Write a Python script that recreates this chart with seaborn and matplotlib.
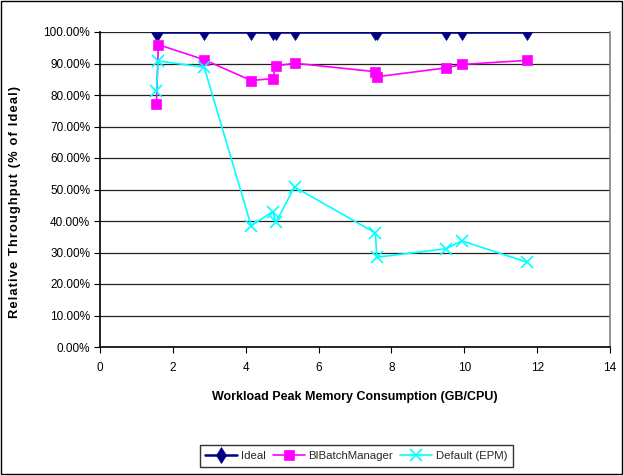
import matplotlib
matplotlib.use("Agg")
import matplotlib.pyplot as plt
from matplotlib.patches import Rectangle
from matplotlib.ticker import PercentFormatter, MultipleLocator
import pandas as pd
import seaborn as sns

# Peak memory per CPU (GB) for each workload run
memory_gb = [1.55, 1.60, 2.86, 4.15, 4.74, 4.83, 5.34, 7.56, 7.60, 9.50, 9.93, 11.73]

# Relative throughput, percent of ideal
ideal = [100, 100, 100, 100, 100, 100, 100, 100, 100, 100, 100, 100]
bi_batch_manager = [77.0, 96.0, 91.2, 84.6, 85.2, 89.2, 90.1, 87.4, 85.8, 88.6, 89.7, 91.0]
default_epm = [81.4, 90.8, 88.8, 38.5, 43.0, 39.6, 50.8, 36.2, 28.5, 31.2, 33.7, 26.9]

series_names = ["Ideal", "BIBatchManager", "Default (EPM)"]
series_values = [ideal, bi_batch_manager, default_epm]

df = pd.concat(
    [pd.DataFrame({"memory": memory_gb, "throughput": vals, "series": name})
     for name, vals in zip(series_names, series_values)],
    ignore_index=True,
)

sns.set_theme(style="white")
plt.rcParams["font.family"] = ["Liberation Sans", "DejaVu Sans"]

fig = plt.figure(figsize=(6.24, 4.75), dpi=100)
ax = fig.add_axes([100 / 624, 1 - 347 / 475, 510 / 624, 315 / 475])

palette = {"Ideal": "#000080", "BIBatchManager": "#FF00FF", "Default (EPM)": "#00FFFF"}
markers = {"Ideal": "d", "BIBatchManager": "s", "Default (EPM)": "x"}
sizes = {"Ideal": 8.5, "BIBatchManager": 6.5, "Default (EPM)": 8}

for name in series_names:
    sub = df[df["series"] == name]
    is_ideal = name == "Ideal"
    sns.lineplot(
        data=sub, x="memory", y="throughput", ax=ax, color=palette[name],
        marker=markers[name], estimator=None, sort=False, label=name,
        linewidth=1.8 if is_ideal else 1.2,
        markersize=sizes[name],
        markeredgewidth=1.2 if name == "Default (EPM)" else 0.5,
        markeredgecolor=palette[name], zorder=3 if is_ideal else 4,
    )

ax.set_xlim(0, 14)
ax.set_ylim(0, 100)
ax.xaxis.set_major_locator(MultipleLocator(2))
ax.yaxis.set_major_locator(MultipleLocator(10))
ax.yaxis.set_major_formatter(PercentFormatter(xmax=100, decimals=2))

ax.grid(axis="y", color="#222222", linewidth=0.9)
ax.grid(axis="x", visible=False)
ax.set_axisbelow(True)

for side in ["left", "bottom"]:
    ax.spines[side].set_color("black")
    ax.spines[side].set_linewidth(1.2)
ax.spines["right"].set_color("#808080")
ax.spines["right"].set_linewidth(1.2)
ax.spines["top"].set_visible(False)

ax.tick_params(axis="both", direction="out", length=4, width=0.8, color="black",
               labelsize=8.5, labelcolor="black", left=True, bottom=True, pad=3)
ax.tick_params(axis="x", pad=7)

ax.set_xlabel("Workload Peak Memory Consumption (GB/CPU)", fontsize=9,
              fontweight="bold", color="black", labelpad=12)
ylabel = "\u200a".join("Relative Throughput (% of Ideal)")
ax.set_ylabel(ylabel, fontsize=9.3, fontweight="bold", color="black")
ax.yaxis.set_label_coords(-0.155, 0.46)

ax.get_legend().remove()
handles, labels = ax.get_legend_handles_labels()
leg = fig.legend(handles, labels, loc="center", bbox_to_anchor=(0.571, 0.04),
                 ncol=3, fontsize=8.2, frameon=True, fancybox=False,
                 edgecolor="black", handlelength=2.8, handletextpad=0.35,
                 columnspacing=0.6, borderpad=0.5)
leg.get_frame().set_linewidth(1.0)

fig.patches.append(Rectangle((0.002, 0.002), 0.994, 0.995, transform=fig.transFigure,
                             fill=False, edgecolor="black", linewidth=1.0))

fig.savefig("out.png", dpi=100)
